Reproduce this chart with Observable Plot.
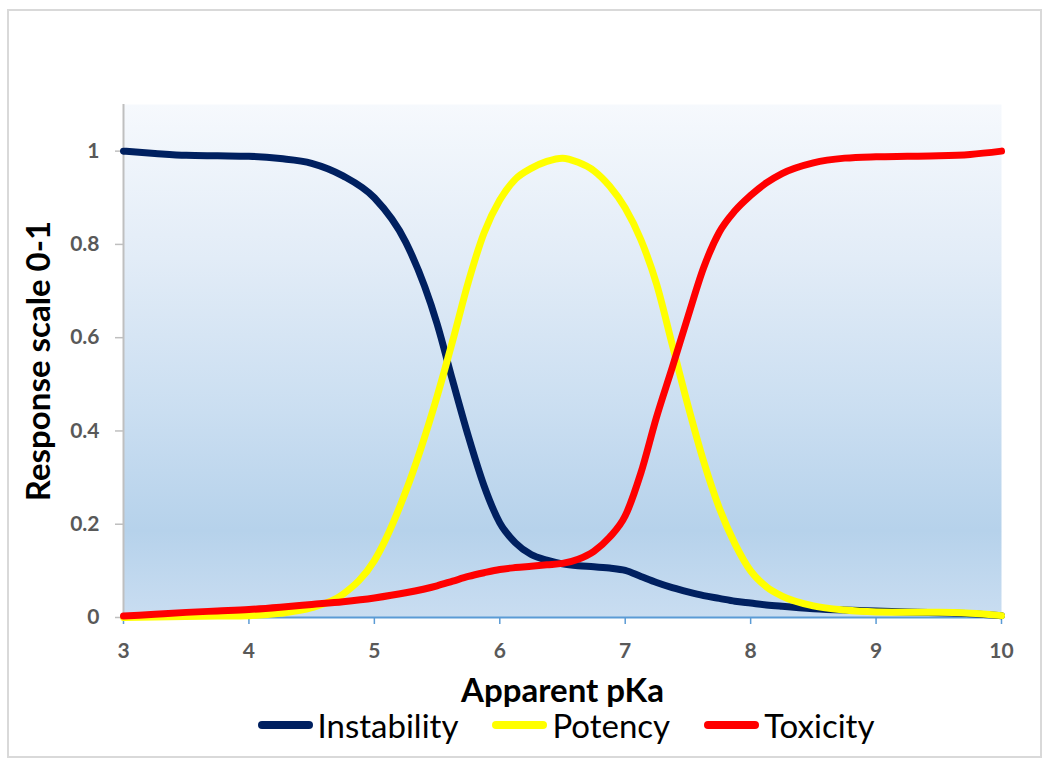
<!DOCTYPE html>
<html><head><meta charset="utf-8">
<script src="https://cdn.jsdelivr.net/npm/d3@7"></script>
<script src="https://cdn.jsdelivr.net/npm/@observablehq/plot@0.6"></script>
<style>
html,body{margin:0;padding:0;background:#fff;}
#wrap{position:relative;width:1050px;height:763px;font-family:Lato,"Open Sans",sans-serif;overflow:hidden;}
#border{position:absolute;left:7px;top:9px;width:1031px;height:745px;border:2px solid #d9d9d9;pointer-events:none;}
#chart{position:absolute;left:0;top:0;}
#legend{position:absolute;left:0;top:705px;width:1050px;height:40px;display:flex;justify-content:center;align-items:center;gap:34px;padding-left:82px;box-sizing:border-box;}
.item{display:flex;align-items:center;}
.sw{width:55px;height:8px;border-radius:4px;margin-right:5px;}
.lab{font-size:33px;color:#000;line-height:40px;font-family:Lato,"Open Sans",sans-serif;}
</style>
</head><body>
<div id="wrap"><div id="chart"></div><div id="legend"></div><div id="border"></div></div>
<script>
const pKa = [3, 3.25, 3.5, 3.75, 4, 4.25, 4.5, 4.75, 5, 5.25, 5.5,
  5.625, 5.75, 5.875, 6, 6.125, 6.25, 6.375, 6.5, 6.625, 6.75, 6.875, 7, 7.125, 7.25, 7.375, 7.5, 7.625, 7.75, 7.875, 8, 8.125, 8.25,
  8.5, 8.75, 9, 9.25, 9.5, 9.75, 10];
const instability = [1.000, 0.995, 0.991, 0.990, 0.989, 0.984, 0.974, 0.947, 0.900, 0.805, 0.630,
  0.507, 0.388, 0.282, 0.203, 0.160, 0.135, 0.123, 0.115, 0.111, 0.109, 0.106, 0.101, 0.088, 0.075, 0.064, 0.055, 0.047, 0.041, 0.035, 0.031, 0.027, 0.024,
  0.019, 0.016, 0.014, 0.012, 0.010, 0.008, 0.004];
const potency = [0.000, 0.001, 0.002, 0.003, 0.004, 0.009, 0.021, 0.050, 0.122, 0.270, 0.474,
  0.594, 0.720, 0.825, 0.895, 0.940, 0.963, 0.978, 0.985, 0.976, 0.958, 0.925, 0.878, 0.810, 0.715, 0.585, 0.455, 0.335, 0.235, 0.158, 0.100, 0.066, 0.046,
  0.025, 0.016, 0.012, 0.011, 0.011, 0.009, 0.004];
const toxicity = [0.003, 0.007, 0.011, 0.014, 0.017, 0.022, 0.028, 0.034, 0.042, 0.053, 0.068,
  0.078, 0.088, 0.096, 0.103, 0.107, 0.110, 0.113, 0.116, 0.125, 0.142, 0.172, 0.218, 0.310, 0.430, 0.536, 0.645, 0.750, 0.826, 0.872, 0.905, 0.932, 0.952,
  0.975, 0.985, 0.988, 0.989, 0.990, 0.993, 1.000];
const seriesNames = ["Instability", "Potency", "Toxicity"];
const seriesColors = ["#002060", "#ffff00", "#ff0000"];
const xTicks = [3, 4, 5, 6, 7, 8, 9, 10];
const xTickLabels = ["3", "4", "5", "6", "7", "8", "9", "10"];
const yTicks = [0, 0.2, 0.4, 0.6, 0.8, 1];
const yTickLabels = ["0", "0.2", "0.4", "0.6", "0.8", "1"];
const xTitle = "Apparent pKa";
const yTitle = "Response scale 0-1";

const seriesValues = [instability, potency, toxicity];
const rows = [];
seriesValues.forEach((vals, s) => pKa.forEach((x, i) => rows.push({series: seriesNames[s], x, y: vals[i]})));

const tickFont = {fill: "#595959", fontSize: 21, fontWeight: "bold"};

const chart = Plot.plot({
  width: 1050, height: 705,
  marginLeft: 123, marginRight: 49, marginTop: 104, marginBottom: 88,
  style: {fontFamily: "Lato, 'Open Sans', sans-serif", background: "transparent", overflow: "visible"},
  x: {domain: [3, 10]},
  y: {domain: [0, 1.1]},
  color: {domain: seriesNames, range: seriesColors},
  marks: [
    Plot.frame({fill: "url(#plotBg)", stroke: "none"}),
    Plot.axisY({ticks: yTicks, tickFormat: d => yTickLabels[yTicks.indexOf(d)], tickSize: 8, tickPadding: 16, stroke: "#bfbfbf", strokeWidth: 1.5, ...tickFont,
      label: yTitle, labelAnchor: "center", labelArrow: "none", labelOffset: 97}),
    Plot.ruleX([3], {stroke: "#bfbfbf", strokeWidth: 2}),
    Plot.axisX({ticks: xTicks, tickFormat: d => xTickLabels[xTicks.indexOf(d)], tickSize: 7, tickPadding: 19, stroke: "#5b9bd5", strokeWidth: 1.5, ...tickFont,
      label: xTitle, labelAnchor: "center", labelArrow: "none", labelOffset: 84}),
    Plot.ruleY([0], {stroke: "#5b9bd5", strokeWidth: 2}),
    Plot.line(rows, {x: "x", y: "y", z: "series", stroke: "series", strokeWidth: 7, curve: "monotone-x", strokeLinecap: "round", strokeLinejoin: "round"})
  ]
});

const svg = d3.select(chart);
const grad = svg.insert("defs", ":first-child").append("linearGradient")
  .attr("id", "plotBg").attr("x1", 0).attr("y1", 0).attr("x2", 0).attr("y2", 1);
[[0, "#f6f9fd"], [0.3, "#e2ecf7"], [0.6, "#cadef1"], [0.83, "#b6d2eb"], [1, "#c9ddf1"]]
  .forEach(([o, c]) => grad.append("stop").attr("offset", o).attr("stop-color", c));

svg.selectAll('[aria-label="x-axis label"] text, [aria-label="y-axis label"] text')
  .attr("fill", "#000").style("font-size", "33px").style("font-weight", "bold");
svg.selectAll('[aria-label="x-axis label"], [aria-label="y-axis label"]')
  .attr("fill", "#000").attr("font-size", 33).attr("font-weight", "bold");

document.getElementById("chart").appendChild(chart);

const legend = d3.select("#legend");
seriesNames.forEach((name, i) => {
  const item = legend.append("div").attr("class", "item");
  item.append("div").attr("class", "sw").style("background", seriesColors[i]);
  item.append("span").attr("class", "lab").text(name);
});
</script>
</body></html>
